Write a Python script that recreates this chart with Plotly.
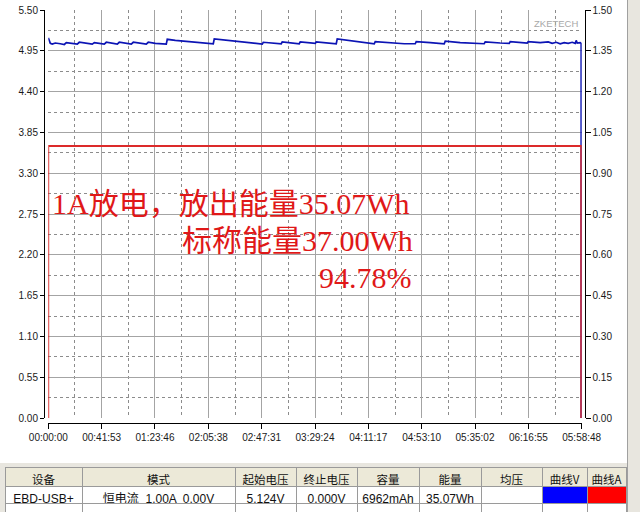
import plotly.graph_objects as go

# ---------------- data ----------------
volt_time_s = [0, 94, 188, 330, 565, 754, 848, 1130, 1366, 1460, 1790, 2072, 2167, 2449, 2638, 2732,
               3014, 3250, 3344, 3674, 3909, 4004, 4333, 4616, 4710, 5040, 5558, 5605, 5982, 6688,
               7395, 7772, 7819, 8337, 9043, 9750, 10079, 10127, 10692, 10974, 11021, 11492, 11822,
               11869, 12340, 12576, 12623, 13047, 13565, 13612, 13989, 14695, 15355, 15402, 16108,
               16767, 17286, 17333, 17992, 18652, 18699, 19405, 20536, 20583, 21290, 21714, 21761,
               22232, 22561, 22608, 23173, 23550, 23738, 23927, 24115, 24304, 24492, 24680, 24822,
               24869, 24916, 25057, 25104, 25104, 25128]
volt_v = [5.124, 5.05, 5.04, 5.055, 5.045, 5.035, 5.06, 5.05, 5.04, 5.065, 5.05, 5.04, 5.06, 5.05, 5.04, 5.065,
          5.05, 5.04, 5.065, 5.05, 5.04, 5.065, 5.05, 5.04, 5.065, 5.05, 5.04, 5.105, 5.09, 5.07,
          5.055, 5.045, 5.11, 5.095, 5.075, 5.055, 5.04, 5.065, 5.05, 5.045, 5.07, 5.05, 5.045,
          5.07, 5.055, 5.05, 5.07, 5.055, 5.045, 5.11, 5.095, 5.075, 5.045, 5.075, 5.06,
          5.045, 5.045, 5.075, 5.06, 5.045, 5.08, 5.06, 5.045, 5.07, 5.055, 5.05, 5.075,
          5.06, 5.055, 5.075, 5.06, 5.07, 5.05, 5.065, 5.045, 5.06, 5.05, 5.065, 5.05,
          5.09, 5.055, 5.06, 5.05, 0.0, 0.0]

curr_time_s = [0, 0, 25104, 25104, 25128]
curr_a = [0.0, 1.0, 1.0, 0.0, 0.0]

x_tickvals = [0, 2513, 5026, 7538, 10051, 12564, 15077, 17590, 20102, 22615, 25128]
x_ticktext = ["00:00:00", "00:41:53", "01:23:46", "02:05:38", "02:47:31", "03:29:24",
              "04:11:17", "04:53:10", "05:35:02", "06:16:55", "05:58:48"]
v_ticks = [0.00, 0.55, 1.10, 1.65, 2.20, 2.75, 3.30, 3.85, 4.40, 4.95, 5.50]
a_ticks = [0.00, 0.15, 0.30, 0.45, 0.60, 0.75, 0.90, 1.05, 1.20, 1.35, 1.50]

note_lines = ["1A放电，放出能量35.07Wh", "标称能量37.00Wh", "94.78%"]

table_header = ["设备", "模式", "起始电压", "终止电压", "容量", "能量", "均压", "曲线V", "曲线A"]
table_row = ["EBD-USB+", "恒电流  1.00A  0.00V", "5.124V", "0.000V", "6962mAh", "35.07Wh", "", "", ""]
col_widths = [77, 153, 61, 61, 62, 62, 61, 45, 39]

# ---------------- layout geometry ----------------
W, H = 640, 512
px = lambda x: min(1.0, max(0.0, x / W))
py = lambda y: min(1.0, max(0.0, 1 - y / H))

grid_solid = "#a4a4a4"
grid_dash = "#8c8c8c"
tick_font = dict(family="Liberation Sans, Arial, sans-serif", size=10, color="#1a1a1a")

fig = go.Figure()

fig.add_trace(go.Scatter(x=volt_time_s, y=volt_v, mode="lines",
                         line=dict(color="#0c14b4", width=1.7), xaxis="x", yaxis="y",
                         showlegend=False, hoverinfo="skip"))
fig.add_trace(go.Scatter(x=curr_time_s, y=curr_a, mode="lines",
                         line=dict(color="#dc2a2a", width=1.8), xaxis="x", yaxis="y2",
                         showlegend=False, hoverinfo="skip"))

# table
fig.add_trace(go.Table(
    domain=dict(x=[px(5), px(626)], y=[0, py(467)]),
    columnwidth=col_widths,
    header=dict(values=table_header, height=19, fill_color="#ece9d8",
                line=dict(color="#9a9a9a", width=1), align="center",
                font=dict(family="Noto Sans CJK SC, sans-serif", size=11.5, color="#111")),
    cells=dict(values=[[v] for v in table_row], height=17,
               fill_color=[["white"]] * 7 + [["#0000ff"], ["#ff0000"]],
               line=dict(color="#9a9a9a", width=1), align="center",
               font=dict(family="Liberation Sans, Noto Sans CJK SC, sans-serif", size=12, color="#111")),
))
fig.add_trace(go.Table(
    domain=dict(x=[px(5), px(626)], y=[0, py(503)]),
    columnwidth=col_widths,
    header=dict(values=[""] * 9, height=10, fill_color="white",
                line=dict(color="#9a9a9a", width=1)),
    cells=dict(values=[[] for _ in range(9)], height=10, fill_color="white",
               line=dict(color="#9a9a9a", width=1)),
))

annotations = [
    dict(text=note_lines[0], x=px(411), y=py(203)),
    dict(text=note_lines[1], x=px(415), y=py(240)),
    dict(text=note_lines[2], x=px(414), y=py(277)),
]
ann = []
for a in annotations:
    ann.append(dict(text=a["text"], x=a["x"], y=a["y"], xref="paper", yref="paper",
                    xanchor="right", yanchor="middle", showarrow=False,
                    font=dict(family="Liberation Serif, Noto Sans CJK SC, serif", size=30, color="#e01818")))
ann.append(dict(text="ZKETECH", x=px(556), y=py(23), xref="paper", yref="paper",
                xanchor="center", yanchor="middle", showarrow=False,
                font=dict(family="Liberation Sans, Arial, sans-serif", size=9.5, color="#a8a8a8")))

shapes = [
    dict(type="rect", xref="paper", yref="paper", x0=px(627), x1=1, y0=0, y1=1,
         fillcolor="#e8e6df", line=dict(width=0), layer="below"),
    dict(type="line", xref="paper", yref="paper", x0=px(627.5), x1=px(627.5), y0=0, y1=1,
         line=dict(color="#a0a0a0", width=1)),
    dict(type="rect", xref="paper", yref="paper", x0=0, x1=px(627), y0=0, y1=py(463),
         fillcolor="#e8e6df", line=dict(width=0), layer="below"),
]

fig.update_layout(
    width=W, height=H,
    margin=dict(l=0, r=0, t=0, b=0),
    paper_bgcolor="white", plot_bgcolor="white",
    showlegend=False,
    xaxis=dict(domain=[px(48.3), px(581.7)], range=[0, 25128], anchor="free", position=py(423),
               tickvals=x_tickvals, ticktext=x_ticktext, tickfont=tick_font,
               showline=True, linecolor="black", linewidth=1,
               ticks="outside", ticklen=5, tickcolor="black", ticklabeloverflow="allow",
               showgrid=True, gridcolor=grid_solid, gridwidth=1, zeroline=False,
               minor=dict(tick0=1256.5, dtick=2513, showgrid=True, gridcolor=grid_dash,
                          griddash="3px,3px", gridwidth=1, ticks=""),
               automargin=False, fixedrange=True),
    yaxis=dict(domain=[py(418), py(10)], range=[0, 5.5], anchor="free", position=px(44),
               tickvals=v_ticks, ticktext=[f"{v:.2f}" for v in v_ticks], tickfont=tick_font,
               showline=True, linecolor="black", linewidth=1,
               ticks="outside", ticklen=4, tickcolor="black", ticklabeloverflow="allow",
               showgrid=True, gridcolor=grid_solid, gridwidth=1, zeroline=False,
               minor=dict(tick0=0.275, dtick=0.55, showgrid=True, gridcolor=grid_dash,
                          griddash="3px,3px", gridwidth=1, ticks=""),
               automargin=False, fixedrange=True),
    yaxis2=dict(domain=[py(418), py(10)], range=[0, 1.5], overlaying="y", side="right",
                anchor="free", position=px(584.5),
                tickvals=a_ticks, ticktext=[f"{v:.2f}" for v in a_ticks], tickfont=tick_font,
                showline=True, linecolor="black", linewidth=1,
                ticks="outside", ticklen=5, tickcolor="black", ticklabeloverflow="allow",
                showgrid=False, zeroline=False, automargin=False, fixedrange=True),
    annotations=ann,
    shapes=shapes,
)

# remove the default 8px page margin so the 640x512 figure fills the window exactly
fig.write_html("out.html", config={"displayModeBar": False},
               post_script="document.body.style.margin='0';")
